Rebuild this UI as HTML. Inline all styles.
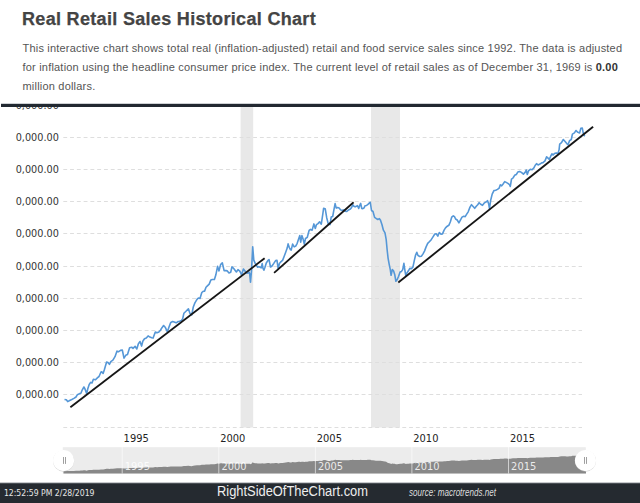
<!DOCTYPE html>
<html><head><meta charset="utf-8"><style>
html,body{margin:0;padding:0;background:#fff;width:640px;height:503px;overflow:hidden;position:relative}
h1{position:absolute;left:22px;top:8.6px;-webkit-text-stroke:0.25px #444;margin:0;font:bold 18px "Liberation Sans",Arial,sans-serif;letter-spacing:0.32px;color:#444;white-space:nowrap}
p{position:absolute;left:22.5px;top:39px;margin:0;white-space:nowrap;font:11px/19px "Liberation Sans",Arial,sans-serif;letter-spacing:0.2px;color:#555}
#hdr{position:absolute;left:0;top:0;width:640px;height:104px;background:#fff}
p b{color:#333}
#bar{position:absolute;left:1px;top:103px;width:639px;height:4px;background:linear-gradient(#ced1d4 0 1px,#222931 1px)}
#foot{position:absolute;left:0;top:482px;width:640px;height:21px;background:linear-gradient(#c8cacd 0 1px,#4a4f55 1px 2px,#252a30 2px)}
svg{position:absolute;left:0;top:0}
</style></head><body>
<svg width="640" height="503" viewBox="0 0 640 503">
<rect x="240.6" y="105" width="12.6" height="322.5" fill="#e8e8e8"/>
<rect x="371" y="105" width="29" height="322.5" fill="#e8e8e8"/>
<g stroke="#dedede" stroke-width="1" stroke-dasharray="3.87,2.91"><line x1="63.3" x2="582" y1="105.5" y2="105.5"/><line x1="63.3" x2="582" y1="137.5" y2="137.5"/><line x1="63.3" x2="582" y1="169.5" y2="169.5"/><line x1="63.3" x2="582" y1="201.5" y2="201.5"/><line x1="63.3" x2="582" y1="233.5" y2="233.5"/><line x1="63.3" x2="582" y1="266.5" y2="266.5"/><line x1="63.3" x2="582" y1="298.5" y2="298.5"/><line x1="63.3" x2="582" y1="330.5" y2="330.5"/><line x1="63.3" x2="582" y1="362.5" y2="362.5"/><line x1="63.3" x2="582" y1="394.5" y2="394.5"/><line x1="63.3" x2="582" y1="427.5" y2="427.5"/></g>
<g font-family="DejaVu Sans, sans-serif" font-size="9.7" fill="#333" text-anchor="end"><text x="58.8" y="109.3">0,000.00</text><text x="58.8" y="141.3">0,000.00</text><text x="58.8" y="173.3">0,000.00</text><text x="58.8" y="205.3">0,000.00</text><text x="58.8" y="237.3">0,000.00</text><text x="58.8" y="270.3">0,000.00</text><text x="58.8" y="302.3">0,000.00</text><text x="58.8" y="334.3">0,000.00</text><text x="58.8" y="366.3">0,000.00</text><text x="58.8" y="398.3">0,000.00</text></g>
<path d="M64.5,399.5 L66.3,399.8 L67.7,401.6 L69.7,400.5 L71.8,399.5 L73.9,398.4 L76.0,397.0 L77.4,394.7 L79.5,393.6 L80.9,393.3 L82.3,389.8 L83.9,387.0 L85.0,389.0 L86.7,393.6 L87.8,388.7 L89.2,384.5 L90.6,382.4 L92.0,382.9 L93.4,379.2 L95.5,379.7 L97.6,377.6 L99.0,376.5 L101.0,372.0 L101.7,371.7 L103.1,373.4 L104.5,369.2 L106.6,362.0 L108.0,362.5 L109.4,364.3 L110.8,361.6 L112.9,360.2 L115.0,356.7 L117.0,351.1 L118.4,351.8 L120.5,350.4 L122.3,350.0 L124.0,358.1 L125.7,355.3 L127.5,354.6 L129.6,347.7 L131.7,347.2 L133.0,348.3 L135.1,346.3 L136.8,349.0 L138.3,343.9 L140.0,341.5 L141.6,346.1 L142.8,341.3 L144.5,338.7 L146.3,338.0 L148.1,335.9 L149.9,337.1 L151.7,337.7 L153.1,338.1 L155.3,332.0 L157.1,332.7 L158.9,332.0 L160.6,330.0 L161.8,327.9 L163.6,325.5 L165.4,327.6 L167.4,331.8 L169.0,327.0 L170.8,322.4 L172.6,321.6 L174.1,322.0 L176.2,322.8 L177.9,321.6 L179.7,321.3 L181.5,320.4 L182.7,318.6 L183.9,313.3 L185.7,311.5 L188.4,308.8 L189.9,313.3 L191.7,315.0 L193.3,307.0 L194.9,302.9 L197.0,299.4 L198.4,298.0 L200.0,298.4 L201.8,292.5 L203.2,291.3 L204.6,291.1 L206.0,287.3 L207.4,285.9 L209.2,284.1 L210.9,279.9 L212.3,279.5 L214.4,279.5 L215.8,275.1 L217.6,266.4 L219.0,270.9 L220.6,264.6 L222.3,262.8 L224.1,270.6 L225.9,270.6 L227.3,270.9 L229.0,273.0 L230.7,272.3 L232.0,266.7 L233.9,268.8 L235.2,270.5 L236.4,272.0 L238.0,269.6 L239.5,270.8 L240.4,272.2 L241.6,275.0 L243.4,269.0 L244.8,270.8 L246.3,272.9 L247.9,273.2 L249.1,272.2 L249.7,273.8 L250.5,282.1 L251.5,270.8 L252.7,246.7 L253.8,260.1 L255.3,263.6 L256.5,265.4 L257.7,267.2 L258.9,266.6 L260.1,267.2 L261.2,267.8 L262.2,263.6 L263.0,268.4 L263.9,270.2 L264.8,267.8 L266.3,263.0 L267.8,260.6 L269.0,259.5 L270.5,267.0 L272.0,266.0 L273.8,263.4 L275.6,260.6 L277.0,260.3 L278.2,269.0 L279.4,263.6 L280.9,261.8 L282.7,260.1 L284.1,256.5 L285.7,252.3 L287.2,248.1 L288.1,243.9 L289.3,247.5 L290.4,249.6 L291.2,250.1 L292.6,244.1 L294.2,246.9 L295.7,246.1 L297.2,243.3 L298.6,239.1 L299.8,235.6 L300.7,242.1 L301.9,235.6 L303.1,239.1 L304.3,244.1 L305.5,238.5 L307.3,237.3 L309.1,230.5 L310.5,229.4 L312.1,230.2 L313.9,223.9 L315.3,228.4 L316.5,224.6 L318.0,223.6 L319.6,221.8 L321.3,224.2 L322.8,214.1 L323.6,208.4 L325.2,208.7 L326.7,217.7 L328.2,223.6 L330.0,224.6 L331.2,217.1 L332.7,216.5 L333.9,209.9 L335.1,203.6 L336.3,208.1 L337.7,207.5 L339.1,207.9 L340.7,209.9 L342.2,210.3 L343.7,209.9 L345.1,211.1 L346.8,211.5 L348.6,209.9 L350.4,209.1 L351.6,207.5 L352.8,204.8 L353.9,206.3 L355.1,206.9 L356.3,206.3 L357.5,205.7 L358.7,208.4 L359.9,205.1 L360.7,203.4 L361.7,208.4 L362.9,208.7 L364.1,207.9 L365.0,205.7 L366.5,205.5 L367.9,204.3 L369.5,202.8 L370.3,202.4 L371.5,210.5 L373.0,211.5 L374.6,217.4 L376.0,218.3 L377.8,219.5 L379.4,218.6 L380.5,220.3 L382.0,224.8 L383.4,230.2 L385.0,232.9 L386.2,239.7 L387.2,250.5 L388.1,258.3 L389.3,264.8 L390.3,269.6 L391.1,275.3 L392.3,269.6 L393.5,270.8 L394.7,274.4 L395.9,281.3 L397.1,279.7 L398.6,276.2 L400.1,272.0 L401.5,271.4 L402.7,269.6 L403.9,263.4 L404.8,269.6 L405.8,275.8 L407.0,272.9 L408.4,270.8 L409.8,268.4 L411.4,268.6 L412.9,267.2 L414.4,260.1 L415.6,255.0 L416.8,252.3 L417.9,255.3 L419.7,256.5 L421.5,256.2 L423.0,253.8 L424.5,251.1 L426.1,246.9 L427.7,243.4 L429.6,241.5 L431.4,239.4 L433.0,236.9 L434.8,234.0 L436.2,233.7 L437.8,236.1 L439.3,232.5 L441.0,234.1 L442.5,233.9 L444.1,230.1 L445.5,227.9 L447.3,226.2 L448.8,225.3 L450.3,222.0 L451.7,217.2 L453.3,215.8 L454.5,216.6 L455.6,219.0 L457.2,220.0 L458.9,222.9 L460.4,220.2 L462.0,217.2 L463.4,216.3 L465.2,216.6 L466.7,214.2 L468.2,211.8 L470.0,207.1 L471.5,204.7 L472.9,206.2 L474.7,208.3 L476.3,206.2 L477.7,204.7 L479.1,202.7 L480.7,204.3 L482.5,205.3 L484.3,202.9 L486.1,202.0 L487.6,200.7 L488.6,203.7 L489.5,208.5 L490.7,200.1 L492.2,194.1 L493.9,190.6 L495.7,190.3 L497.5,189.4 L499.1,188.2 L500.3,184.8 L501.7,185.8 L503.1,184.0 L504.7,181.6 L506.2,182.4 L507.9,183.4 L509.5,184.6 L510.3,186.4 L511.5,179.2 L513.0,178.0 L514.6,175.3 L516.3,174.5 L517.8,172.1 L519.6,171.5 L521.4,172.4 L523.4,174.1 L525.3,172.1 L526.2,170.0 L527.3,174.5 L528.5,170.9 L530.3,169.3 L532.1,169.7 L533.9,167.9 L535.1,165.5 L536.5,163.7 L538.1,164.9 L539.9,164.1 L541.7,162.9 L543.0,162.7 L545.0,160.9 L546.6,156.8 L547.8,157.9 L549.3,159.4 L550.7,156.2 L551.9,153.8 L553.1,155.0 L554.6,153.4 L556.1,152.9 L557.9,153.8 L559.1,149.6 L559.7,144.2 L561.5,142.7 L563.3,139.5 L565.1,141.5 L566.8,143.6 L568.0,144.8 L569.6,140.6 L571.3,139.5 L572.4,134.1 L574.4,132.9 L576.0,130.5 L577.9,132.3 L579.6,132.9 L580.8,128.4 L582.3,128.1 L583.2,132.9 L584.1,135.3 L584.7,136.2" fill="none" stroke="#5597d7" stroke-width="1.6" stroke-linejoin="round"/>
<g stroke="#161616" stroke-width="1.85" stroke-linecap="butt">
<line x1="70.4" y1="407.2" x2="264.6" y2="258.3"/>
<line x1="274.1" y1="272.9" x2="353.6" y2="202.2"/>
<line x1="398.3" y1="282.5" x2="593.1" y2="126.7"/>
</g>
<g font-family="DejaVu Sans, sans-serif" font-size="9.9" fill="#222"><text x="123.6" y="441.7">1995</text><text x="220.2" y="441.7">2000</text><text x="316.8" y="441.7">2005</text><text x="413.3" y="441.7">2010</text><text x="509.9" y="441.7">2015</text></g>
<rect x="62.8" y="447.2" width="523" height="26.3" fill="#ececec"/>
<path d="M63.5,473.5 L63.5,471.0 L64.5,470.97 L66.3,470.99 L67.7,471.09 L69.7,471.03 L71.8,470.97 L73.9,470.91 L76.0,470.83 L77.4,470.70 L79.5,470.64 L80.9,470.62 L82.3,470.42 L83.9,470.26 L85.0,470.37 L86.7,470.64 L87.8,470.36 L89.2,470.12 L90.6,470.00 L92.0,470.03 L93.4,469.81 L95.5,469.84 L97.6,469.72 L99.0,469.66 L101.0,469.40 L101.7,469.39 L103.1,469.48 L104.5,469.24 L106.6,468.83 L108.0,468.86 L109.4,468.97 L110.8,468.81 L112.9,468.73 L115.0,468.53 L117.0,468.21 L118.4,468.25 L120.5,468.17 L122.3,468.15 L124.0,468.61 L125.7,468.45 L127.5,468.41 L129.6,468.02 L131.7,467.99 L133.0,468.05 L135.1,467.94 L136.8,468.09 L138.3,467.80 L140.0,467.67 L141.6,467.93 L142.8,467.65 L144.5,467.51 L146.3,467.47 L148.1,467.35 L149.9,467.41 L151.7,467.45 L153.1,467.47 L155.3,467.12 L157.1,467.16 L158.9,467.12 L160.6,467.01 L161.8,466.89 L163.6,466.75 L165.4,466.87 L167.4,467.11 L169.0,466.84 L170.8,466.58 L172.6,466.53 L174.1,466.55 L176.2,466.60 L177.9,466.53 L179.7,466.51 L181.5,466.46 L182.7,466.36 L183.9,466.06 L185.7,465.96 L188.4,465.80 L189.9,466.06 L191.7,466.15 L193.3,465.70 L194.9,465.47 L197.0,465.27 L198.4,465.19 L200.0,465.21 L201.8,464.87 L203.2,464.80 L204.6,464.79 L206.0,464.58 L207.4,464.50 L209.2,464.39 L210.9,464.15 L212.3,464.13 L214.4,464.13 L215.8,463.88 L217.6,463.38 L219.0,463.64 L220.6,463.28 L222.3,463.18 L224.1,463.62 L225.9,463.62 L227.3,463.64 L229.0,463.76 L230.7,463.72 L232.0,463.40 L233.9,463.52 L235.2,463.62 L236.4,463.70 L238.0,463.57 L239.5,463.64 L240.4,463.72 L241.6,463.88 L243.4,463.53 L244.8,463.64 L246.3,463.76 L247.9,463.77 L249.1,463.72 L249.7,463.81 L250.5,464.28 L251.5,463.64 L252.7,462.26 L253.8,463.03 L255.3,463.23 L256.5,463.33 L257.7,463.43 L258.9,463.40 L260.1,463.43 L261.2,463.46 L262.2,463.23 L263.0,463.50 L263.9,463.60 L264.8,463.46 L266.3,463.19 L267.8,463.05 L269.0,462.99 L270.5,463.42 L272.0,463.36 L273.8,463.21 L275.6,463.05 L277.0,463.04 L278.2,463.53 L279.4,463.23 L280.9,463.12 L282.7,463.03 L284.1,462.82 L285.7,462.58 L287.2,462.34 L288.1,462.10 L289.3,462.31 L290.4,462.43 L291.2,462.46 L292.6,462.11 L294.2,462.27 L295.7,462.23 L297.2,462.07 L298.6,461.83 L299.8,461.63 L300.7,462.00 L301.9,461.63 L303.1,461.83 L304.3,462.11 L305.5,461.79 L307.3,461.73 L309.1,461.34 L310.5,461.28 L312.1,461.32 L313.9,460.96 L315.3,461.22 L316.5,461.00 L318.0,460.95 L319.6,460.84 L321.3,460.98 L322.8,460.40 L323.6,460.08 L325.2,460.10 L326.7,460.61 L328.2,460.95 L330.0,461.00 L331.2,460.57 L332.7,460.54 L333.9,460.16 L335.1,459.81 L336.3,460.06 L337.7,460.03 L339.1,460.05 L340.7,460.16 L342.2,460.19 L343.7,460.16 L345.1,460.23 L346.8,460.26 L348.6,460.16 L350.4,460.12 L351.6,460.03 L352.8,459.87 L353.9,459.96 L355.1,459.99 L356.3,459.96 L357.5,459.92 L358.7,460.08 L359.9,459.89 L360.7,459.79 L361.7,460.08 L362.9,460.10 L364.1,460.05 L365.0,459.92 L366.5,459.91 L367.9,459.85 L369.5,459.76 L370.3,459.74 L371.5,460.20 L373.0,460.26 L374.6,460.59 L376.0,460.64 L377.8,460.71 L379.4,460.66 L380.5,460.76 L382.0,461.01 L383.4,461.32 L385.0,461.48 L386.2,461.86 L387.2,462.48 L388.1,462.92 L389.3,463.29 L390.3,463.57 L391.1,463.89 L392.3,463.57 L393.5,463.64 L394.7,463.84 L395.9,464.23 L397.1,464.14 L398.6,463.94 L400.1,463.70 L401.5,463.67 L402.7,463.57 L403.9,463.21 L404.8,463.57 L405.8,463.92 L407.0,463.76 L408.4,463.64 L409.8,463.50 L411.4,463.51 L412.9,463.43 L414.4,463.03 L415.6,462.74 L416.8,462.58 L417.9,462.75 L419.7,462.82 L421.5,462.80 L423.0,462.67 L424.5,462.51 L426.1,462.27 L427.7,462.07 L429.6,461.97 L431.4,461.85 L433.0,461.70 L434.8,461.54 L436.2,461.52 L437.8,461.66 L439.3,461.45 L441.0,461.54 L442.5,461.53 L444.1,461.32 L445.5,461.19 L447.3,461.09 L448.8,461.04 L450.3,460.85 L451.7,460.58 L453.3,460.50 L454.5,460.55 L455.6,460.68 L457.2,460.74 L458.9,460.91 L460.4,460.75 L462.0,460.58 L463.4,460.53 L465.2,460.55 L466.7,460.41 L468.2,460.27 L470.0,460.00 L471.5,459.87 L472.9,459.95 L474.7,460.07 L476.3,459.95 L477.7,459.87 L479.1,459.75 L480.7,459.85 L482.5,459.90 L484.3,459.77 L486.1,459.71 L487.6,459.64 L488.6,459.81 L489.5,460.08 L490.7,459.61 L492.2,459.26 L493.9,459.06 L495.7,459.05 L497.5,459.00 L499.1,458.93 L500.3,458.73 L501.7,458.79 L503.1,458.69 L504.7,458.55 L506.2,458.60 L507.9,458.65 L509.5,458.72 L510.3,458.82 L511.5,458.41 L513.0,458.35 L514.6,458.19 L516.3,458.15 L517.8,458.01 L519.6,457.98 L521.4,458.03 L523.4,458.12 L525.3,458.01 L526.2,457.89 L527.3,458.15 L528.5,457.94 L530.3,457.85 L532.1,457.87 L533.9,457.77 L535.1,457.63 L536.5,457.53 L538.1,457.60 L539.9,457.55 L541.7,457.49 L543.0,457.47 L545.0,457.37 L546.6,457.14 L547.8,457.20 L549.3,457.29 L550.7,457.10 L551.9,456.97 L553.1,457.03 L554.6,456.94 L556.1,456.92 L557.9,456.97 L559.1,456.73 L559.7,456.42 L561.5,456.33 L563.3,456.15 L565.1,456.27 L566.8,456.39 L568.0,456.45 L569.6,456.21 L571.3,456.15 L572.4,455.84 L574.4,455.78 L576.0,455.64 L577.9,455.74 L579.6,455.78 L580.8,455.52 L582.3,455.50 L583.2,455.78 L584.1,455.91 L584.7,455.96 L586,455.96 L586,473.5 Z" fill="#888"/>
<g stroke="#fff" stroke-opacity="0.6" stroke-width="1"><line x1="122.2" x2="122.2" y1="447" y2="473.5"/><line x1="218.8" x2="218.8" y1="447" y2="473.5"/><line x1="315.4" x2="315.4" y1="447" y2="473.5"/><line x1="411.9" x2="411.9" y1="447" y2="473.5"/><line x1="508.5" x2="508.5" y1="447" y2="473.5"/></g>
<g font-family="DejaVu Sans, sans-serif" font-size="9.9" fill="#fff" fill-opacity="0.85"><text x="124.8" y="469.8">1995</text><text x="221.4" y="469.8">2000</text><text x="318.0" y="469.8">2005</text><text x="414.5" y="469.8">2010</text><text x="511.1" y="469.8">2015</text></g>
<defs><filter id="sh" x="-30%" y="-30%" width="160%" height="160%"><feGaussianBlur stdDeviation="0.7"/></filter></defs>
<g>
<circle cx="63.6" cy="461.1" r="10.6" fill="#bbb" filter="url(#sh)" opacity="0.6"/>
<circle cx="63.6" cy="460.6" r="10.6" fill="#fff"/>
<line x1="63.5" y1="457" x2="63.5" y2="463.9" stroke="#a0a0a0" stroke-width="1"/>
<line x1="65.5" y1="457" x2="65.5" y2="463.9" stroke="#a0a0a0" stroke-width="1"/>
<circle cx="585.5" cy="461.1" r="10.6" fill="#bbb" filter="url(#sh)" opacity="0.6"/>
<circle cx="585.5" cy="460.6" r="10.6" fill="#fff"/>
<line x1="584.5" y1="457" x2="584.5" y2="463.9" stroke="#a0a0a0" stroke-width="1"/>
<line x1="586.5" y1="457" x2="586.5" y2="463.9" stroke="#a0a0a0" stroke-width="1"/>
</g>
</svg>
<div id="hdr"></div>
<h1>Real Retail Sales Historical Chart</h1>
<p>This interactive chart shows total real (inflation-adjusted) retail and food service sales since 1992. The data is adjusted<br>for inflation using the headline consumer price index. The current level of retail sales as of December 31, 1969 is <b>0.00</b><br>million dollars.</p>
<div id="bar"></div>
<div id="foot"></div>
<svg width="640" height="503" viewBox="0 0 640 503" style="pointer-events:none">
<text x="3.9" y="496.3" font-family="DejaVu Sans Condensed, DejaVu Sans, sans-serif" font-size="8.6" fill="#e6e6e6">12:52:59 PM 2/28/2019</text>
<text x="217" y="495.5" font-family="Liberation Sans, Arial, sans-serif" font-size="14" fill="#eee" textLength="151" lengthAdjust="spacingAndGlyphs">RightSideOfTheChart.com</text>
<text x="409" y="495.8" font-family="Liberation Sans, Arial, sans-serif" font-size="10" font-style="italic" fill="#ddd" textLength="87" lengthAdjust="spacingAndGlyphs">source: macrotrends.net</text>
</svg>
</body></html>
